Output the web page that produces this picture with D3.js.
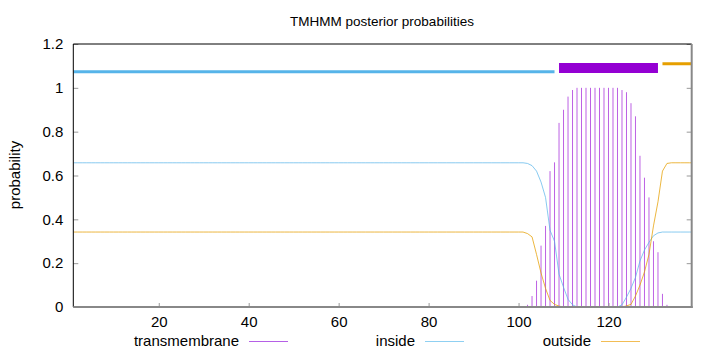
<!DOCTYPE html>
<html>
<head>
<meta charset="utf-8">
<script src="https://cdn.jsdelivr.net/npm/d3@7"></script>
<style>
  body { margin: 0; background: #fff; }
  svg { display: block; font-family: "Liberation Sans", Arial, sans-serif; }
</style>
</head>
<body>
<svg id="chart"></svg>
<script>
// residue positions 1..139
let positions = d3.range(1, 140)

// posterior probabilities, one value per residue
let transmembrane = [
  0, 0, 0, 0, 0, 0, 0, 0, 0, 0, 0, 0, 0, 0, 0, 0, 0, 0, 0, 0,
  0, 0, 0, 0, 0, 0, 0, 0, 0, 0, 0, 0, 0, 0, 0, 0, 0, 0, 0, 0,
  0, 0, 0, 0, 0, 0, 0, 0, 0, 0, 0, 0, 0, 0, 0, 0, 0, 0, 0, 0,
  0, 0, 0, 0, 0, 0, 0, 0, 0, 0, 0, 0, 0, 0, 0, 0, 0, 0, 0, 0,
  0, 0, 0, 0, 0, 0, 0, 0, 0, 0, 0, 0, 0, 0, 0, 0, 0, 0, 0, 0,
  0, 0.01, 0.05, 0.12, 0.28, 0.37, 0.62, 0.66, 0.84, 0.90, 0.96, 0.99,
  1, 1, 1, 1, 1, 1, 1, 1, 1, 1,
  0.99, 0.98, 0.93, 0.87, 0.69, 0.59, 0.50, 0.30, 0.25, 0.06, 0.01,
  0, 0, 0, 0, 0, 0
]
let inside = [
  0.658, 0.658, 0.658, 0.658, 0.658, 0.658, 0.658, 0.658, 0.658, 0.658,
  0.658, 0.658, 0.658, 0.658, 0.658, 0.658, 0.658, 0.658, 0.658, 0.658,
  0.658, 0.658, 0.658, 0.658, 0.658, 0.658, 0.658, 0.658, 0.658, 0.658,
  0.658, 0.658, 0.658, 0.658, 0.658, 0.658, 0.658, 0.658, 0.658, 0.658,
  0.658, 0.658, 0.658, 0.658, 0.658, 0.658, 0.658, 0.658, 0.658, 0.658,
  0.658, 0.658, 0.658, 0.658, 0.658, 0.658, 0.658, 0.658, 0.658, 0.658,
  0.658, 0.658, 0.658, 0.658, 0.658, 0.658, 0.658, 0.658, 0.658, 0.658,
  0.658, 0.658, 0.658, 0.658, 0.658, 0.658, 0.658, 0.658, 0.658, 0.658,
  0.658, 0.658, 0.658, 0.658, 0.658, 0.658, 0.658, 0.658, 0.658, 0.658,
  0.658, 0.658, 0.658, 0.658, 0.658, 0.658, 0.658, 0.658, 0.658, 0.658,
  0.658,
  0.655, 0.645, 0.62, 0.57, 0.50, 0.35, 0.30, 0.15, 0.09, 0.035, 0.01,
  0, 0, 0, 0, 0, 0, 0, 0, 0, 0,
  0.01, 0.045, 0.085, 0.135, 0.21, 0.26, 0.295, 0.325, 0.338,
  0.342, 0.342, 0.342, 0.342, 0.342, 0.342, 0.342, 0.342
]
let outside = [
  0.342, 0.342, 0.342, 0.342, 0.342, 0.342, 0.342, 0.342, 0.342, 0.342,
  0.342, 0.342, 0.342, 0.342, 0.342, 0.342, 0.342, 0.342, 0.342, 0.342,
  0.342, 0.342, 0.342, 0.342, 0.342, 0.342, 0.342, 0.342, 0.342, 0.342,
  0.342, 0.342, 0.342, 0.342, 0.342, 0.342, 0.342, 0.342, 0.342, 0.342,
  0.342, 0.342, 0.342, 0.342, 0.342, 0.342, 0.342, 0.342, 0.342, 0.342,
  0.342, 0.342, 0.342, 0.342, 0.342, 0.342, 0.342, 0.342, 0.342, 0.342,
  0.342, 0.342, 0.342, 0.342, 0.342, 0.342, 0.342, 0.342, 0.342, 0.342,
  0.342, 0.342, 0.342, 0.342, 0.342, 0.342, 0.342, 0.342, 0.342, 0.342,
  0.342, 0.342, 0.342, 0.342, 0.342, 0.342, 0.342, 0.342, 0.342, 0.342,
  0.342, 0.342, 0.342, 0.342, 0.342, 0.342, 0.342, 0.342, 0.342, 0.342,
  0.342,
  0.335, 0.32, 0.24, 0.155, 0.085, 0.03, 0.012, 0.004,
  0, 0, 0, 0, 0, 0, 0, 0, 0, 0, 0, 0, 0, 0,
  0.005, 0.012, 0.05, 0.1, 0.16, 0.24, 0.37, 0.48, 0.62, 0.655,
  0.658, 0.658, 0.658, 0.658, 0.658, 0.658
]

// predicted topology drawn above the curves
let topoNames = ['inside', 'TMhelix', 'outside']
let topoStart = [1, 109, 132]
let topoEnd = [108, 131, 139]
let topoLevel = [1.073, 1.09, 1.11]

let xTicks = [20, 40, 60, 80, 100, 120]
let yTicks = [0, 0.2, 0.4, 0.6, 0.8, 1, 1.2]
let seriesNames = ['transmembrane', 'inside', 'outside']

let width = 720
let height = 352
let plotLeft = 73.3, plotRight = 691.7, plotTop = 44, plotBottom = 307
let fontSize = '15px'

let colTM = '#9400d3', colIn = '#56b4e9', colOut = '#e69f00'

let svg = d3.select('#chart').attr('width', width).attr('height', height)

let xScale = d3.scaleLinear().domain([1, 138.5]).range([plotLeft, plotRight])
let yScale = d3.scaleLinear().domain([0, 1.2]).range([plotBottom, plotTop])

svg.append('clipPath').attr('id', 'plot-clip')
  .append('rect')
  .attr('x', plotLeft).attr('y', plotTop)
  .attr('width', plotRight - plotLeft).attr('height', plotBottom - plotTop)

let plot = svg.append('g').attr('clip-path', 'url(#plot-clip)')

// impulses
plot.selectAll('line.tm')
  .data(positions.filter((p, i) => transmembrane[i] > 0))
  .enter()
  .append('line')
  .attr('class', 'tm')
  .attr('x1', (p) => xScale(p))
  .attr('x2', (p) => xScale(p))
  .attr('y1', yScale(0))
  .attr('y2', (p) => yScale(transmembrane[p - 1]))
  .attr('stroke', colTM)
  .attr('stroke-opacity', 0.62)
  .attr('stroke-width', 1)

let lineFor = (vals) => d3.line()
  .x((p) => xScale(p))
  .y((p, i) => yScale(vals[i]))

plot.append('path')
  .datum(positions)
  .attr('d', lineFor(inside))
  .attr('fill', 'none')
  .attr('stroke', colIn)
  .attr('stroke-opacity', 0.7)
  .attr('stroke-width', 1)

plot.append('path')
  .datum(positions)
  .attr('d', lineFor(outside))
  .attr('fill', 'none')
  .attr('stroke', colOut)
  .attr('stroke-opacity', 0.75)
  .attr('stroke-width', 1)

// topology bars
let topoColor = { inside: colIn, TMhelix: colTM, outside: colOut }
let topoWidth = { inside: 3, TMhelix: 10, outside: 3 }
plot.selectAll('line.topo')
  .data(topoNames)
  .enter()
  .append('line')
  .attr('class', 'topo')
  .attr('x1', (d, i) => xScale(topoStart[i]))
  .attr('x2', (d, i) => xScale(topoEnd[i]))
  .attr('y1', (d, i) => yScale(topoLevel[i]))
  .attr('y2', (d, i) => yScale(topoLevel[i]))
  .attr('stroke', (d) => topoColor[d])
  .attr('stroke-width', (d) => topoWidth[d])

// axes
let xAxis = d3.axisBottom(xScale).tickValues(xTicks).tickSize(-4).tickPadding(9)
let yAxis = d3.axisLeft(yScale).tickValues(yTicks).tickSize(-5).tickPadding(10)
  .tickFormat((d) => d3.format('~g')(d))
let yAxisRight = d3.axisRight(yScale).tickValues(yTicks).tickSize(-5).tickFormat('')

let gx = svg.append('g').attr('transform', 'translate(0,' + plotBottom + ')').call(xAxis)
let gy = svg.append('g').attr('transform', 'translate(' + plotLeft + ',0)').call(yAxis)
let gyr = svg.append('g').attr('transform', 'translate(' + plotRight + ',0)').call(yAxisRight)
;[gx, gy, gyr].forEach((g) => {
  g.select('.domain').remove()
  g.selectAll('.tick line').attr('stroke', '#999')
  g.selectAll('.tick text').attr('fill', '#000').style('font-size', fontSize)
    .style('font-family', '"Liberation Sans", Arial, sans-serif')
})

// border: black on left/top, grey on bottom/right
svg.append('line').attr('x1', plotLeft).attr('x2', plotLeft).attr('y1', plotTop).attr('y2', plotBottom)
  .attr('stroke', '#000').attr('stroke-width', 1)
svg.append('line').attr('x1', plotLeft).attr('x2', plotRight).attr('y1', plotTop).attr('y2', plotTop)
  .attr('stroke', '#000').attr('stroke-width', 1)
svg.append('line').attr('x1', plotLeft).attr('x2', plotRight + 1).attr('y1', plotBottom).attr('y2', plotBottom)
  .attr('stroke', '#888').attr('stroke-width', 2)
svg.append('line').attr('x1', plotRight).attr('x2', plotRight).attr('y1', plotTop).attr('y2', plotBottom + 1)
  .attr('stroke', '#888').attr('stroke-width', 2)

svg.append('text')
  .attr('x', 382).attr('y', 26)
  .attr('text-anchor', 'middle')
  .style('font-size', '13.5px')
  .text('TMHMM posterior probabilities')

svg.append('text')
  .attr('transform', 'translate(20,175) rotate(-90)')
  .attr('text-anchor', 'middle')
  .style('font-size', fontSize)
  .text('probability')

// legend
let legendTextEnd = [239, 415, 591]
let legendColor = ['#b560e6', '#8fd0f2', '#f2bd55']
let legend = svg.selectAll('g.legend')
  .data(seriesNames)
  .enter()
  .append('g')
  .attr('class', 'legend')
legend.append('text')
  .attr('x', (d) => legendTextEnd[seriesNames.indexOf(d)])
  .attr('y', 346)
  .attr('text-anchor', 'end')
  .style('font-size', fontSize)
  .text((d) => d)
legend.append('line')
  .attr('x1', (d) => legendTextEnd[seriesNames.indexOf(d)] + 10)
  .attr('x2', (d) => legendTextEnd[seriesNames.indexOf(d)] + 49)
  .attr('y1', 341.5).attr('y2', 341.5)
  .attr('stroke', (d) => legendColor[seriesNames.indexOf(d)])
  .attr('stroke-width', 1)
</script>
</body>
</html>
